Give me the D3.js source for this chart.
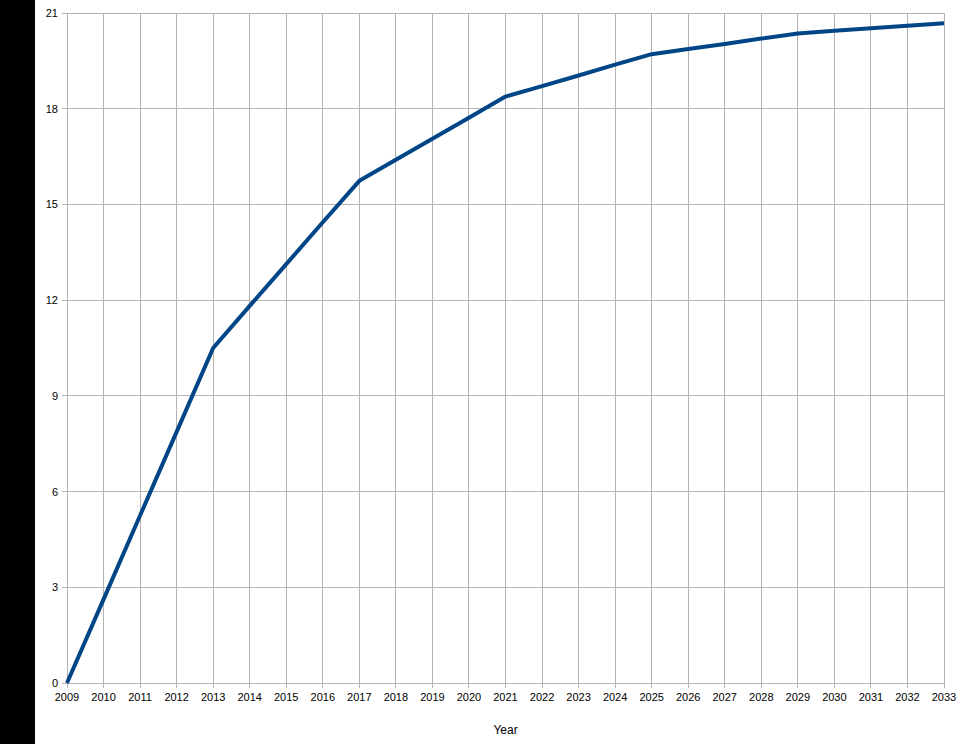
<!DOCTYPE html>
<html><head><meta charset="utf-8">
<script src="https://cdn.jsdelivr.net/npm/d3@7"></script>
<style>body{margin:0;background:#fff;}svg{display:block;}</style>
</head><body>
<script>
const years = [2009,2010,2011,2012,2013,2014,2015,2016,2017,2018,2019,2020,2021,2022,2023,2024,2025,2026,2027,2028,2029,2030,2031,2032,2033];
const values = [0,2.62,5.25,7.87,10.5,11.82,13.13,14.44,15.74,16.4,17.06,17.72,18.38,18.71,19.04,19.38,19.71,19.87,20.03,20.2,20.36,20.44,20.52,20.6,20.68];
const yTicks = [0,3,6,9,12,15,18,21];
const xLabel = "Year";

const W = 968, H = 744;
const m = {left:67, right:24, top:13, bottom:61};
const svg = d3.select("body").append("svg").attr("width",W).attr("height",H);
svg.append("rect").attr("x",0).attr("y",0).attr("width",35).attr("height",H).attr("fill","#000");

const x = d3.scaleLinear().domain([2009,2033]).range([m.left, W-m.right]);
const y = d3.scaleLinear().domain([0,21]).range([H-m.bottom, m.top]);

const grid = "#b3b3b3";
// vertical grid + x ticks
svg.append("g").selectAll("line").data(years).join("line")
  .attr("x1",d=>x(d)).attr("x2",d=>x(d))
  .attr("y1",m.top).attr("y2",H-m.bottom+5)
  .attr("stroke",grid).attr("stroke-width",1).attr("shape-rendering","crispEdges");
// horizontal grid + y ticks
svg.append("g").selectAll("line").data(yTicks).join("line")
  .attr("x1",m.left-5).attr("x2",W-m.right)
  .attr("y1",d=>y(d)).attr("y2",d=>y(d))
  .attr("stroke",grid).attr("stroke-width",1).attr("shape-rendering","crispEdges");

const font = "'Liberation Sans', Arial, sans-serif";
svg.append("g").selectAll("text").data(years).join("text")
  .attr("x",d=>x(d)).attr("y",H-m.bottom+18)
  .attr("text-anchor","middle").attr("font-family",font).attr("font-size",11).attr("fill","#000")
  .text(d=>d);
svg.append("g").selectAll("text").data(yTicks).join("text")
  .attr("x",m.left-9).attr("y",d=>y(d)+4)
  .attr("text-anchor","end").attr("font-family",font).attr("font-size",11).attr("fill","#000")
  .text(d=>d);

svg.append("text").attr("x",(x(2009)+x(2033))/2).attr("y",H-10)
  .attr("text-anchor","middle").attr("font-family",font).attr("font-size",12).attr("fill","#000")
  .text(xLabel);

const line = d3.line().x((d,i)=>x(years[i])).y(d=>y(d));
svg.append("path").datum(values).attr("d",line)
  .attr("fill","none").attr("stroke","#004586").attr("stroke-width",4)
  .attr("stroke-linejoin","round");
</script>
</body></html>
